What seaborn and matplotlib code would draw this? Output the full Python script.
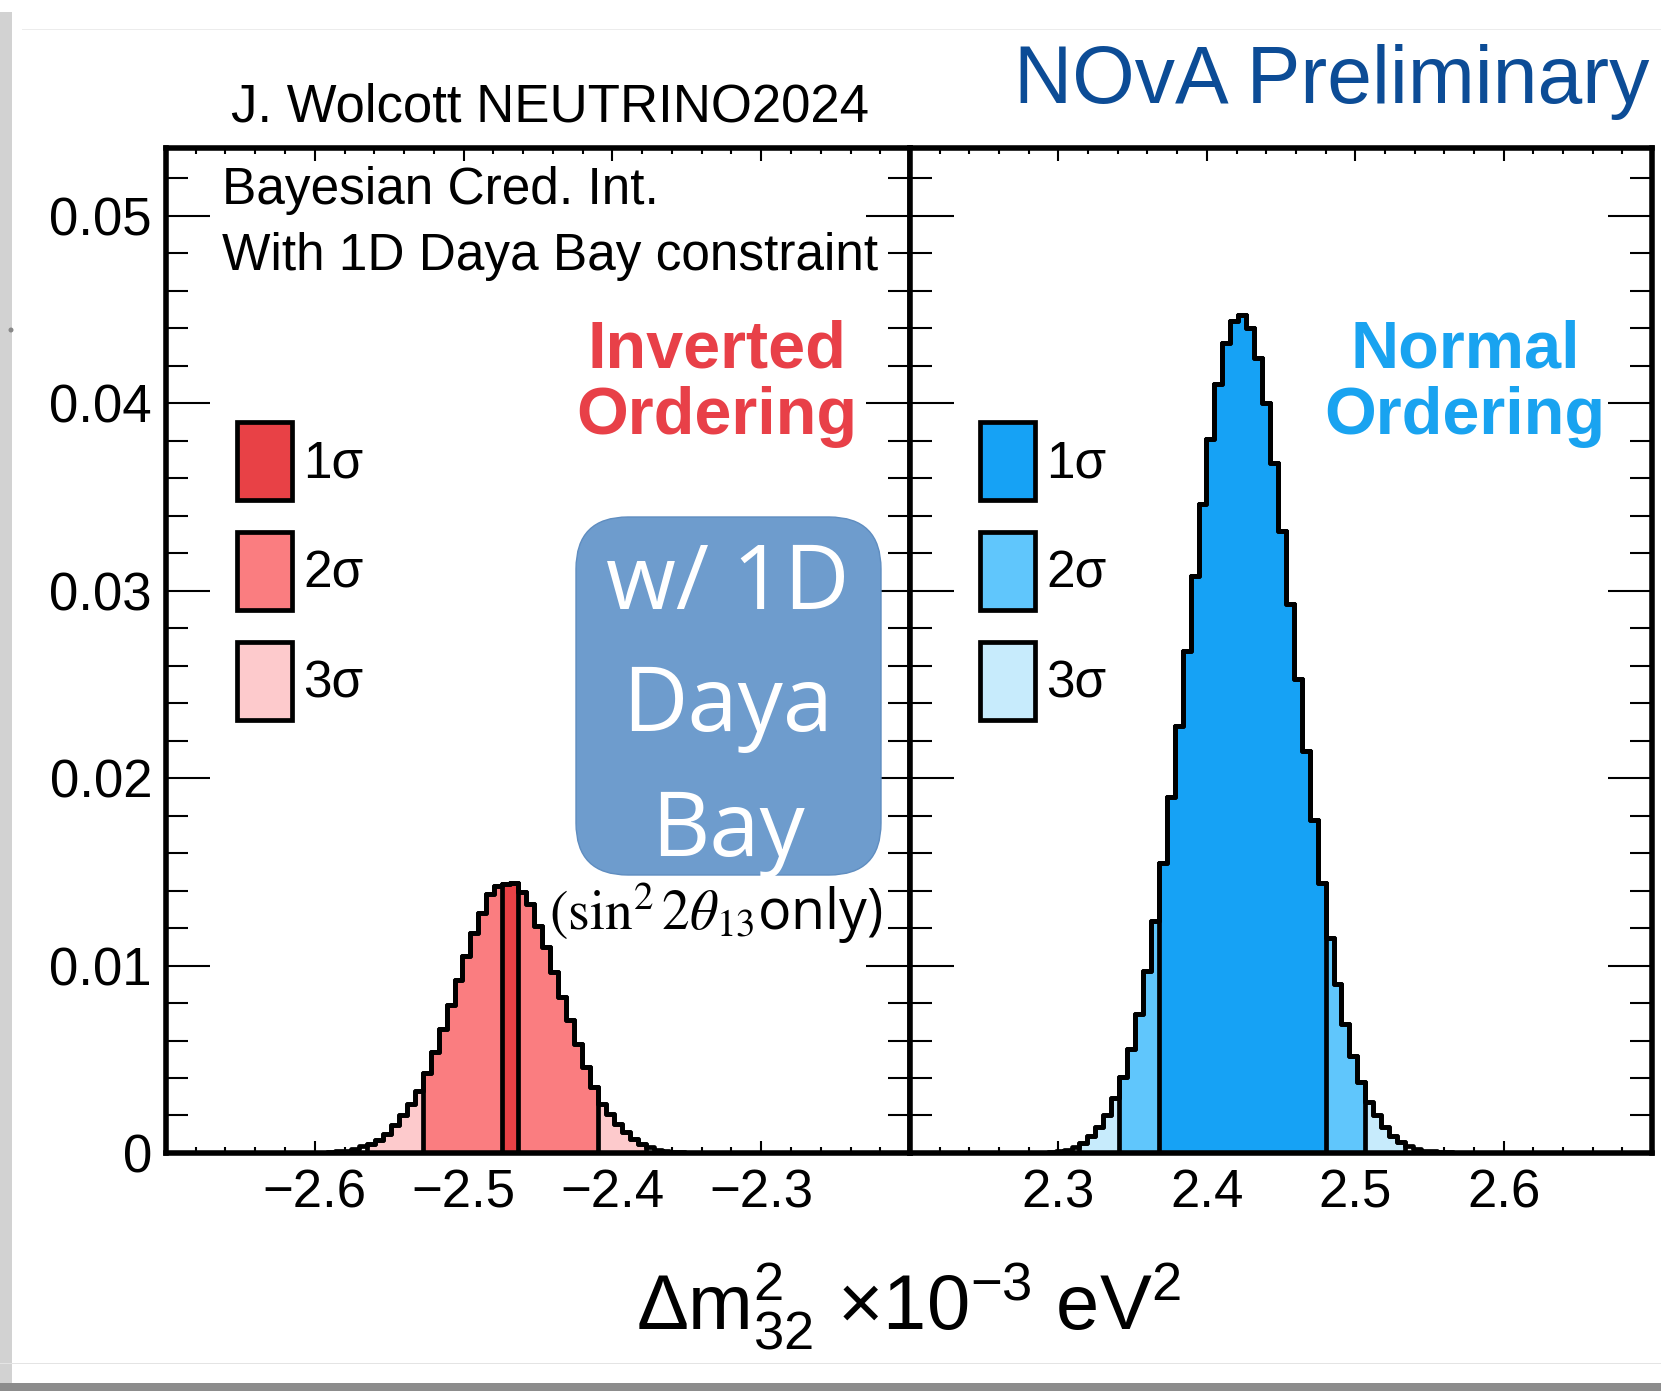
import numpy as np
import pandas as pd
import matplotlib
matplotlib.use('Agg')
import matplotlib.pyplot as plt
import matplotlib.ticker as mticker
import matplotlib.transforms as mtransforms
from matplotlib.patches import Patch, FancyBboxPatch, Rectangle, Circle
import seaborn as sns

# posterior probability per bin
bin_w = 0.00535

io_first_edge = -2.59705
io_prob = [0.00002, 0.00004, 0.00008, 0.00013, 0.00022, 0.00035, 0.00049, 0.0007,
           0.00102, 0.00147, 0.0020, 0.00262, 0.00333, 0.00428, 0.00540, 0.00664,
           0.00788, 0.00925, 0.01050, 0.01175, 0.01280, 0.01382, 0.01422, 0.01436,
           0.01440, 0.01391, 0.01329, 0.01213, 0.01098, 0.00964, 0.00831, 0.00707,
           0.00582, 0.00458, 0.00351, 0.00262, 0.00209, 0.00156, 0.00111, 0.00076,
           0.00049, 0.00031, 0.00018, 0.0001, 0.00005, 0.00003]

no_first_edge = 2.2874
no_prob = [0.00002, 0.00004, 0.00008, 0.00015, 0.00031, 0.00052, 0.00088, 0.00138,
           0.0020, 0.00294, 0.00408, 0.00556, 0.00739, 0.00973, 0.0124, 0.01546,
           0.01901, 0.0228, 0.0268, 0.0308, 0.0346, 0.0381, 0.0410, 0.0432,
           0.0444, 0.0447, 0.0440, 0.0424, 0.0400, 0.0368, 0.0332, 0.0293,
           0.0253, 0.02143, 0.01777, 0.01441, 0.01148, 0.00902, 0.00689, 0.0052,
           0.00378, 0.00271, 0.0020, 0.00138, 0.00093, 0.00058, 0.00035, 0.0002,
           0.00012, 0.00008, 0.00005, 0.00003, 0.00002]

# credible intervals (1, 2, 3 sigma)
io_bands = [(-2.4740, -2.4633), (-2.5275, -2.4098), (-2.5650, -2.3777)]
no_bands = [(2.3677, 2.4800), (2.3409, 2.5068), (2.3142, 2.5335)]

sigma_labels = ['1σ', '2σ', '3σ']
io_colors = ['#e84146', '#fa7d80', '#fdcacc']
no_colors = ['#16a2f5', '#60c6fc', '#c7ebfc']

io_xticks = [-2.6, -2.5, -2.4, -2.3]
no_xticks = [2.3, 2.4, 2.5, 2.6]
yticks = [0, 0.01, 0.02, 0.03, 0.04, 0.05]
ytick_labels = ['0', '0.01', '0.02', '0.03', '0.04', '0.05']

sns.set_style('ticks')
plt.rcParams.update({
    'font.family': ['Liberation Sans', 'DejaVu Sans'],
    'mathtext.fontset': 'custom',
    'mathtext.rm': 'Liberation Sans',
    'mathtext.it': 'Liberation Sans:italic',
    'text.color': 'black',
    'axes.edgecolor': 'black',
    'xtick.color': 'black',
    'ytick.color': 'black',
})


def draw_posterior(ax, first_edge, probs, bands, colors):
    edges = first_edge + bin_w * np.arange(len(probs) + 1)
    df = pd.DataFrame({'x': 0.5 * (edges[:-1] + edges[1:]), 'p': probs})
    for (lo, hi), col in list(zip(bands, colors))[::-1]:
        sel = (df['x'] > lo) & (df['x'] < hi)
        idx = np.flatnonzero(sel.values)
        sns.histplot(data=df[sel], x='x', weights='p',
                     bins=list(edges[idx[0]:idx[-1] + 2]),
                     element='step', fill=True, facecolor=col, edgecolor='black',
                     linewidth=3.4, alpha=1, ax=ax)
    sns.histplot(data=df, x='x', weights='p', bins=list(edges), element='step',
                 fill=False, color='black', linewidth=3.4, ax=ax)


fig = plt.figure(figsize=(16.61, 13.91), dpi=100)
ax_io = fig.add_axes([0.0999, 0.1711, 0.4480, 0.7225])
ax_no = fig.add_axes([0.5479, 0.1711, 0.4467, 0.7225])

draw_posterior(ax_io, io_first_edge, io_prob, io_bands, io_colors)
draw_posterior(ax_no, no_first_edge, no_prob, no_bands, no_colors)

for ax, xlim, xt in [(ax_io, (-2.7, -2.2), io_xticks), (ax_no, (2.2, 2.7), no_xticks)]:
    ax.set_xlim(*xlim)
    ax.set_ylim(0, 0.0536)
    ax.set(xlabel='', ylabel='')
    ax.xaxis.set_major_locator(mticker.FixedLocator(xt))
    ax.xaxis.set_minor_locator(mticker.MultipleLocator(0.02))
    ax.yaxis.set_major_locator(mticker.FixedLocator(yticks))
    ax.yaxis.set_minor_locator(mticker.MultipleLocator(0.002))
    ax.tick_params(which='both', direction='in', top=True, bottom=True,
                   left=True, right=True, width=1.5, color='black')
    ax.tick_params(axis='y', which='major', length=32, pad=10, labelsize=38)
    ax.tick_params(axis='y', which='minor', length=16)
    ax.tick_params(axis='x', which='major', length=9, pad=11, labelsize=38)
    ax.tick_params(axis='x', which='minor', length=4)
    for sp in ax.spines.values():
        sp.set_linewidth(4)
        sp.set_zorder(5)

ax_io.set_yticklabels(ytick_labels)
ax_no.tick_params(labelleft=False)

# legends
for ax, colors, x0 in [(ax_io, io_colors, 0.0954), (ax_no, no_colors, 0.0943)]:
    handles = [Patch(facecolor=c, edgecolor='black', linewidth=3.4) for c in colors]
    ax.legend(handles, sigma_labels, loc='upper left', bbox_to_anchor=(x0, 0.7278),
              frameon=False, fontsize=37, handlelength=1.07, handleheight=1.97,
              labelspacing=0.62, handletextpad=0.22, borderpad=0, borderaxespad=0)

ax_io.text(0.0759, 0.9439, 'Bayesian Cred. Int.', transform=ax_io.transAxes,
           fontsize=37, va='baseline')
ax_io.text(0.0759, 0.8786, 'With 1D Daya Bay constraint', transform=ax_io.transAxes,
           fontsize=37, va='baseline')

ax_io.text(0.7406, 0.7815, 'Inverted', transform=ax_io.transAxes, fontsize=48,
           fontweight='bold', color='#e84048', ha='center', va='baseline')
ax_io.text(0.7406, 0.7154, 'Ordering', transform=ax_io.transAxes, fontsize=48,
           fontweight='bold', color='#e84048', ha='center', va='baseline')
ax_no.text(0.748, 0.7815, 'Normal', transform=ax_no.transAxes, fontsize=48,
           fontweight='bold', color='#19a3f0', ha='center', va='baseline')
ax_no.text(0.748, 0.7154, 'Ordering', transform=ax_no.transAxes, fontsize=48,
           fontweight='bold', color='#19a3f0', ha='center', va='baseline')

W, H = 1661, 1391
px = mtransforms.IdentityTransform()
box = FancyBboxPatch((576, H - 875), 305, 358, boxstyle='round,pad=0,rounding_size=52',
                     facecolor='#6e9ccd', edgecolor='#5f8dc0', linewidth=1,
                     transform=px, zorder=10)
fig.add_artist(box)
for line, yb in [('w/ 1D', 609), ('Daya', 731), ('Bay', 856)]:
    fig.text(728 / W, 1 - yb / H, line, color='white', fontsize=65,
             family=['Open Sans', 'DejaVu Sans'], ha='center', va='baseline', zorder=11)

fig.text(549 / W, 1 - 930 / H, r'$(\sin^2 2\theta_{13}$only)', fontsize=40,
         family=['Open Sans', 'DejaVu Sans'], math_fontfamily='stix',
         va='baseline', zorder=12)

fig.text(231 / W, 1 - 122 / H, 'J. Wolcott NEUTRINO2024', fontsize=38, va='baseline')
fig.text(1014 / W, 1 - 103 / H, 'NOvA Preliminary', fontsize=58, color='#0c4c96',
         va='baseline')
fig.text(909 / W, 1 - 1329 / H,
         r'$\Delta\mathrm{m}^{2}_{32}\ \mathrm{×10^{-3}}\ \mathrm{eV}^{2}$',
         fontsize=56, ha='center', va='baseline')

# screenshot frame edges
fig.add_artist(Rectangle((0, 0), 12, H - 12, transform=px, facecolor='#d2d2d2',
                         edgecolor='none', zorder=-1))
fig.add_artist(Rectangle((0, 0), W, 8, transform=px, facecolor='#8c8c8c',
                         edgecolor='none', zorder=-1))
fig.add_artist(Rectangle((22, H - 30), W, 1.5, transform=px, facecolor='#ececec',
                         edgecolor='none', zorder=-1))
fig.add_artist(Rectangle((0, H - 1364), W, 1.5, transform=px, facecolor='#e4e4e4',
                         edgecolor='none', zorder=-1))
fig.add_artist(Circle((11, H - 330), 2.5, transform=px, facecolor='#888888',
                      edgecolor='none', zorder=1))

fig.savefig('out.png', dpi=100)
